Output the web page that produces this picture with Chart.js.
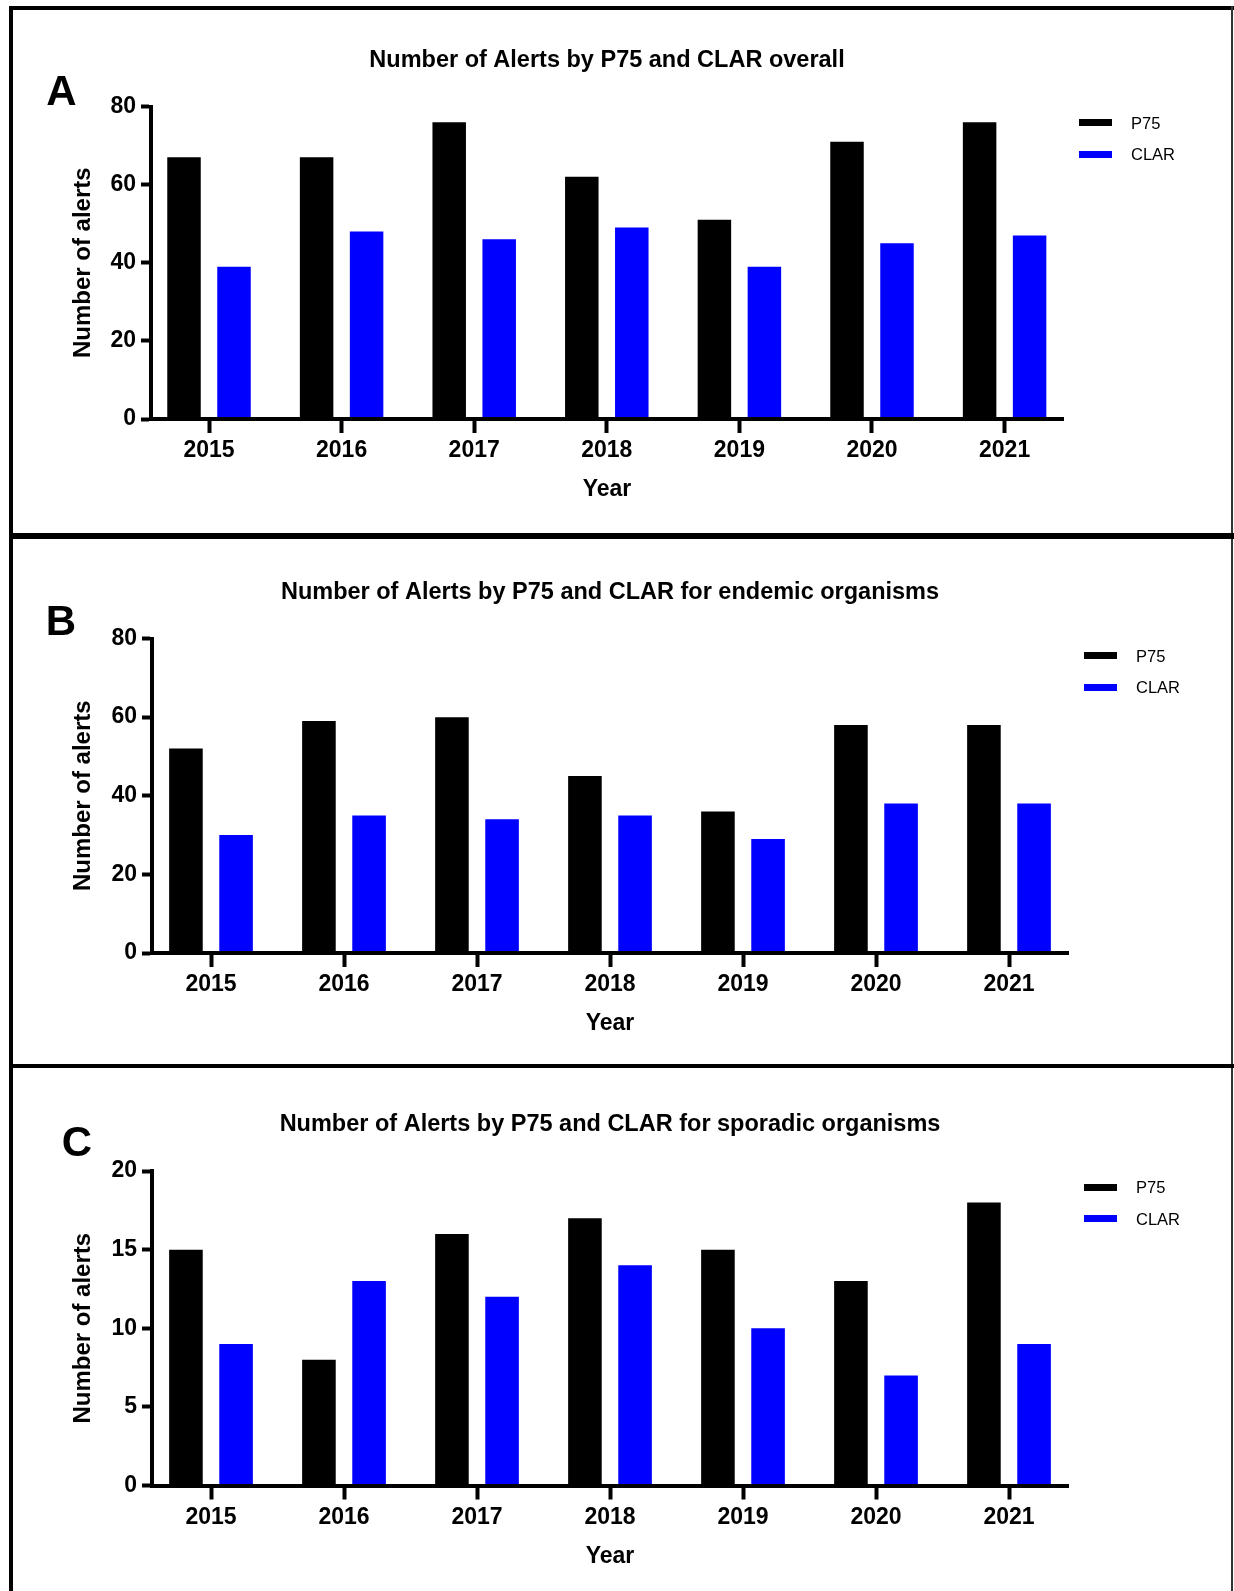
<!DOCTYPE html>
<html>
<head>
<meta charset="utf-8">
<title>Number of Alerts by P75 and CLAR</title>
<script src="https://cdn.jsdelivr.net/npm/chart.js@4.4.1/dist/chart.umd.min.js"></script>
<style>
  body { margin: 0; background: #fff; width: 1234px; height: 1591px; position: relative; overflow: hidden;
         font-family: "Liberation Sans", Arial, sans-serif; }
  canvas { position: absolute; left: 0; }
  .line { position: absolute; background: #000; z-index: 2; }
  .letter { position: absolute; width: 60px; height: 42px; line-height: 42px; font-size: 42px;
            font-weight: bold; text-align: center; color: #000; }
  .swatch { position: absolute; width: 33px; height: 7px; }
  .legtext { position: absolute; height: 20px; line-height: 20px; font-size: 16.5px; color: #000; white-space: nowrap; }
</style>
</head>
<body>
<canvas id="chartA"></canvas>
<canvas id="chartB"></canvas>
<canvas id="chartC"></canvas>

<div class="line" style="left:9px; top:6px; width:1225px; height:4px;"></div>
<div class="line" style="left:9px; top:6px; width:4px; height:1585px;"></div>
<div class="line" style="left:1231px; top:6px; width:2px; height:1585px; background:#333;"></div>
<div class="line" style="left:9px; top:533px; width:1225px; height:6px;"></div>
<div class="line" style="left:9px; top:1064px; width:1225px; height:4px;"></div>

<script>
// data
const years = ['2015', '2016', '2017', '2018', '2019', '2020', '2021'];
const seriesNames = ['P75', 'CLAR'];
const seriesColors = ['#000000', '#0000ff'];

const overallP75 = [67, 67, 76, 62, 51, 71, 76];
const overallCLAR = [39, 48, 46, 49, 39, 45, 47];
const endemicP75 = [52, 59, 60, 45, 36, 58, 58];
const endemicCLAR = [30, 35, 34, 35, 29, 38, 38];
const sporadicP75 = [15, 8, 16, 17, 15, 13, 18];
const sporadicCLAR = [9, 13, 12, 14, 10, 7, 9];

const alertTicks = [0, 20, 40, 60, 80];
const sporadicTicks = [0, 5, 10, 15, 20];

Chart.defaults.font.family = '"Liberation Sans", Arial, sans-serif';
Chart.defaults.color = '#000';

// where each panel sits on the page
const panels = [
  { id: 'chartA', letter: 'A', title: 'Number of Alerts by P75 and CLAR overall',
    p75: overallP75, clar: overallCLAR, yTicks: alertTicks,
    top: 0, height: 533, chartTop: 106.5, chartBottom: 419, left: 151, right: 1063,
    catStart: 209, catStep: 132.6, titleY: 60.3, letterX: 61.5, letterY: 90.5,
    legendX: 1079, legendY: 122.7 },
  { id: 'chartB', letter: 'B', title: 'Number of Alerts by P75 and CLAR for endemic organisms',
    p75: endemicP75, clar: endemicCLAR, yTicks: alertTicks,
    top: 539, height: 525, chartTop: 638.5, chartBottom: 953, left: 152, right: 1068,
    catStart: 211, catStep: 133, titleY: 593, letterX: 61, letterY: 621,
    legendX: 1084, legendY: 655.6 },
  { id: 'chartC', letter: 'C', title: 'Number of Alerts by P75 and CLAR for sporadic organisms',
    p75: sporadicP75, clar: sporadicCLAR, yTicks: sporadicTicks,
    top: 1068, height: 523, chartTop: 1171, chartBottom: 1485.5, left: 152, right: 1068,
    catStart: 211, catStep: 133, titleY: 1125, letterX: 77, letterY: 1142,
    legendX: 1084, legendY: 1187.3 }
];

function addHtmlBits(p) {
  const letter = document.createElement('div');
  letter.className = 'letter';
  letter.textContent = p.letter;
  letter.style.left = (p.letterX - 30) + 'px';
  letter.style.top = (p.letterY - 21) + 'px';
  document.body.appendChild(letter);

  seriesNames.forEach(function(name, k) {
    const cy = p.legendY + k * 31.4;
    const sw = document.createElement('div');
    sw.className = 'swatch';
    sw.style.background = seriesColors[k];
    sw.style.left = p.legendX + 'px';
    sw.style.top = (cy - 3.5) + 'px';
    document.body.appendChild(sw);

    const tx = document.createElement('div');
    tx.className = 'legtext';
    tx.textContent = name;
    tx.style.left = (p.legendX + 52) + 'px';
    tx.style.top = (cy - 10) + 'px';
    document.body.appendChild(tx);
  });
}

function makeChart(p) {
  const canvas = document.getElementById(p.id);
  canvas.width = 1234;
  canvas.height = p.height;
  canvas.style.top = p.top + 'px';

  const top = p.chartTop - p.top;
  const bottom = p.chartBottom - p.top;
  const titleSize = 23.5;
  const titleLH = titleSize * 1.2;
  const padTop = (p.titleY - p.top) - titleLH / 2;
  const axisSize = 23;
  const axisLH = axisSize * 1.2;
  const yTitleSize = 24;
  const xHeight = p.height - bottom;

  new Chart(canvas, {
    type: 'bar',
    data: {
      datasets: [
        { label: seriesNames[0], data: p.p75.map((v, i) => ({ x: i, y: v })),
          backgroundColor: seriesColors[0], categoryPercentage: 0.754, barPercentage: 0.67 },
        { label: seriesNames[1], data: p.clar.map((v, i) => ({ x: i, y: v })),
          backgroundColor: seriesColors[1], categoryPercentage: 0.754, barPercentage: 0.67 }
      ]
    },
    options: {
      responsive: false,
      animation: false,
      devicePixelRatio: 1,
      layout: { padding: { top: padTop, left: 0, right: 1234 - p.right, bottom: 0 } },
      plugins: {
        legend: { display: false },
        tooltip: { enabled: false },
        title: {
          display: true,
          text: p.title,
          fullSize: false,
          color: '#000',
          font: { size: titleSize, weight: 'bold', lineHeight: 1.2 },
          padding: { top: 0, bottom: top - padTop - titleLH }
        }
      },
      scales: {
        x: {
          type: 'linear',
          offset: false,
          min: (p.left - p.catStart) / p.catStep,
          max: (p.right - p.catStart) / p.catStep,
          afterBuildTicks: function(s) { s.ticks = years.map((_, i) => ({ value: i })); },
          afterFit: function(s) { s.height = xHeight; },
          grid: { offset: false, drawOnChartArea: false, drawTicks: true, tickLength: 14,
                  tickWidth: 4, tickColor: '#000', color: '#000' },
          border: { display: true, color: '#000', width: 4, z: 1 },
          ticks: { padding: 4, color: '#000', maxRotation: 0, autoSkip: false,
                   font: { size: axisSize, weight: 'bold', lineHeight: 1.2 },
                   callback: function(v) { return years[v]; } },
          title: { display: true, text: 'Year', color: '#000',
                   font: { size: axisSize, weight: 'bold', lineHeight: 1.2 },
                   padding: { top: 0, bottom: xHeight - 71 - axisLH / 2 } }
        },
        y: {
          min: 0,
          max: p.yTicks[p.yTicks.length - 1],
          afterBuildTicks: function(s) { s.ticks = p.yTicks.map(v => ({ value: v })); },
          afterFit: function(s) { s.width = p.left; },
          grid: { drawOnChartArea: false, drawTicks: true, tickLength: 10,
                  tickWidth: 4, tickColor: '#000', color: '#000' },
          border: { display: true, color: '#000', width: 4, z: 1 },
          ticks: { padding: 5, color: '#000',
                   font: { size: axisSize, weight: 'bold', lineHeight: 1.2 } },
          title: { display: true, text: 'Number of alerts', color: '#000',
                   font: { size: yTitleSize, weight: 'bold', lineHeight: 1.2 },
                   padding: { top: 83 - yTitleSize * 0.6, bottom: 0 } }
        }
      }
    }
  });
}

panels.forEach(function(p) {
  makeChart(p);
  addHtmlBits(p);
});
</script>
</body>
</html>
